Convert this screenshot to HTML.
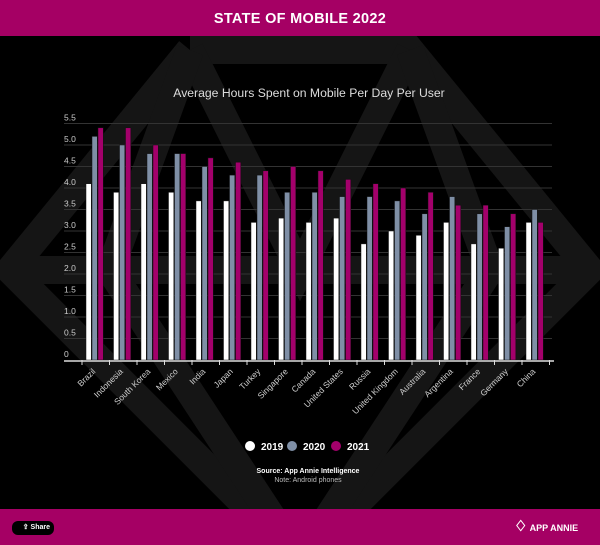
<!DOCTYPE html>
<html><head><meta charset="utf-8"><style>
body{margin:0;background:#000;font-family:"Liberation Sans",sans-serif}
#wrap{position:relative;width:600px;height:545px;overflow:hidden;background:#000}
.hdr{position:absolute;left:0;top:0;width:600px;height:36px;background:#a50064;color:#fff;font-weight:bold;font-size:14.5px;text-align:center;line-height:38px;letter-spacing:0.3px}
.ftr{position:absolute;left:0;top:509px;width:600px;height:36px;background:#a50064}
</style></head><body>
<div id="wrap">
<div class="hdr">STATE OF MOBILE 2022</div>
<svg id="chart" width="600" height="545" style="position:absolute;left:0;top:0">
<g stroke="#151515" stroke-width="28" fill="none">
<polyline points="190,50 410,50 590,270 300,560 10,270 190,50"/>
<polyline points="10,270 300,270 590,270"/>
<polyline points="190,50 300,270 410,50"/>
<polyline points="190,50 110,270 300,560 490,270 410,50"/>
</g>
<text x="309" y="97" fill="#ddd" font-size="12.2" text-anchor="middle">Average Hours Spent on Mobile Per Day Per User</text>
<g id="grid"></g><g id="bars"></g><g id="xaxis"></g>
<g font-size="10" font-weight="bold" fill="#fff">
<circle cx="250" cy="446" r="5" fill="#fff"/><text x="261" y="450">2019</text>
<circle cx="292" cy="446" r="5" fill="#7f8fa6"/><text x="303" y="450">2020</text>
<circle cx="336" cy="446" r="5" fill="#a3006b"/><text x="347" y="450">2021</text>
</g>
<text x="308" y="473" fill="#fff" font-size="7" font-weight="bold" text-anchor="middle">Source: App Annie Intelligence</text>
<text x="308" y="482" fill="#bbb" font-size="7" text-anchor="middle">Note: Android phones</text>
</svg>
<div class="ftr"></div>
<div style="position:absolute;left:12px;top:521px;width:42px;height:14px;background:#000;border-radius:6px;color:#fff;font-size:7px;font-weight:bold;line-height:14px;text-align:right;padding-right:4px;box-sizing:border-box">⇪ Share</div>
<div style="position:absolute;left:514px;top:518px;color:#fff;font-size:9px;font-weight:bold;line-height:18px"><span style="font-size:15px">♢</span> APP ANNIE</div>
</div>
<script>
const categories=["Brazil","Indonesia","South Korea","Mexico","India","Japan","Turkey","Singapore","Canada","United States","Russia","United Kingdom","Australia","Argentina","France","Germany","China"];
const values2019=[4.1,3.9,4.1,3.9,3.7,3.7,3.2,3.3,3.2,3.3,2.7,3.0,2.9,3.2,2.7,2.6,3.2];
const values2020=[5.2,5.0,4.8,4.8,4.5,4.3,4.3,3.9,3.9,3.8,3.8,3.7,3.4,3.8,3.4,3.1,3.5];
const values2021=[5.4,5.4,5.0,4.8,4.7,4.6,4.4,4.5,4.4,4.2,4.1,4.0,3.9,3.6,3.6,3.4,3.2];
const yTicks=["0","0.5","1.0","1.5","2.0","2.5","3.0","3.5","4.0","4.5","5.0","5.5"];
const NS="http://www.w3.org/2000/svg";
const x0=82,step=27.5,y0=360,unit=43;
const yScale=v=>y0-v*unit;
const xScale=i=>x0+i*step;
function mk(t,a,p){const e=document.createElementNS(NS,t);for(const k in a)e.setAttribute(k,a[k]);p.appendChild(e);return e;}
const grid=document.getElementById('grid'),bars=document.getElementById('bars'),xa=document.getElementById('xaxis');
yTicks.forEach(t=>{const v=parseFloat(t),y=yScale(v);
 if(v>0){const l=mk('line',{x1:64,x2:552,y1:y,y2:y,stroke:'#333','stroke-width':1},grid);
 
 }
 const tx=mk('text',{x:64,y:y-3,fill:'#ccc','font-size':8.5},grid);tx.textContent=t;
 
 
});
const ax=mk('line',{x1:64,x2:554,y1:y0+1,y2:y0+1,stroke:'#ddd','stroke-width':1.5},xa);


const series=[[values2019,'#ffffff','2019'],[values2020,'#7f8fa6','2020'],[values2021,'#a3006b','2021']];
categories.forEach((c,i)=>{
 const gx=xScale(i);
 series.forEach((s,j)=>{const v=s[0][i];
  const r=mk('rect',{x:gx+4+j*6,y:yScale(v),width:5.3,height:v*unit,fill:s[1],stroke:'#111','stroke-width':0.5},bars);
  
  
 });
 const tk=mk('line',{x1:gx,x2:gx,y1:y0,y2:y0+5,stroke:'#ddd'},xa);
 
 
 const cx=gx+14,lt=mk('text',{x:cx,y:y0+12,fill:'#ccc','font-size':8.5,'text-anchor':'end',transform:`rotate(-45 ${cx} ${y0+12})`},xa);
 lt.textContent=c;
 
 
});
const lt=mk('line',{x1:xScale(categories.length),x2:xScale(categories.length),y1:y0,y2:y0+5,stroke:'#ddd'},xa);


</script>
</body></html>
